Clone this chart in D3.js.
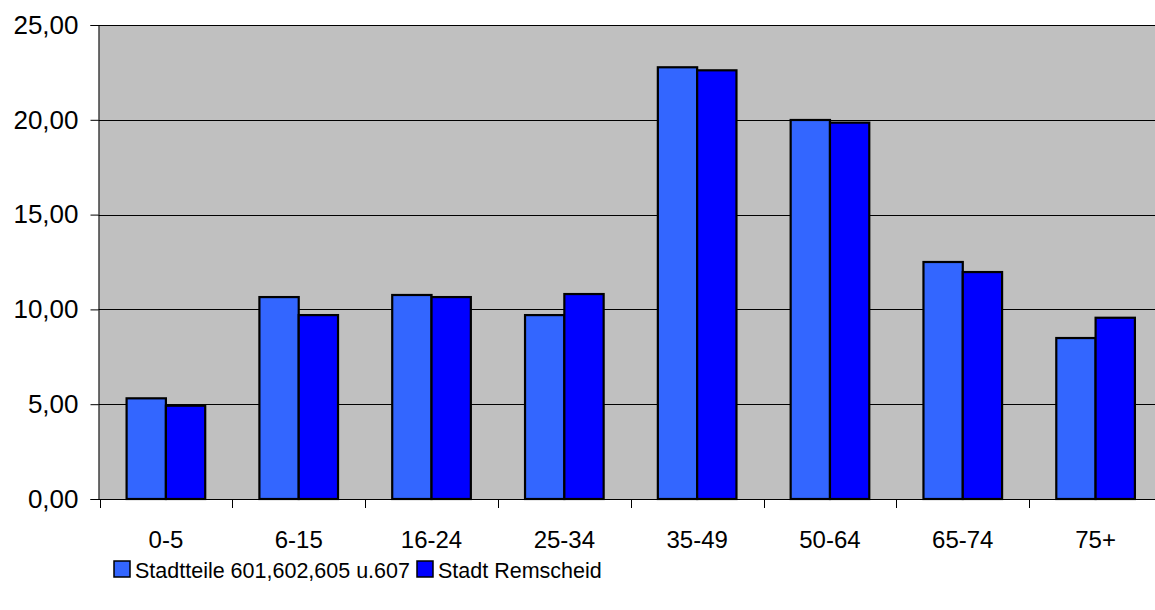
<!DOCTYPE html>
<html>
<head>
<meta charset="utf-8">
<script src="https://cdn.jsdelivr.net/npm/d3@7"></script>
<style>
  html, body { margin: 0; padding: 0; background: #fff; }
  svg { display: block; font-family: "Liberation Sans", Arial, sans-serif; }
</style>
</head>
<body>
<svg id="chart" width="1155" height="610"></svg>
<script>
// Age groups and population shares (%)
const categories = ["0-5", "6-15", "16-24", "25-34", "35-49", "50-64", "65-74", "75+"];
const seriesNames = ["Stadtteile 601,602,605 u.607", "Stadt Remscheid"];
const stadtteile = [5.31, 10.65, 10.76, 9.70, 22.77, 19.99, 12.50, 8.49];
const remscheid  = [4.92, 9.70, 10.65, 10.81, 22.61, 19.85, 11.97, 9.56];
const yTicks = [0, 5, 10, 15, 20, 25];

const colors = ["#3366FF", "#0000FF"];
const svg = d3.select("#chart");

const plot = { left: 98.5, right: 1162, top: 25, bottom: 499 };

const x = d3.scaleBand().domain(categories).range([plot.left + 1, plot.right]);
const y = d3.scaleLinear().domain([0, 25]).range([plot.bottom, plot.top]);

// Plot background
svg.append("rect")
  .attr("x", plot.left).attr("y", plot.top)
  .attr("width", plot.right - plot.left).attr("height", plot.bottom - plot.top)
  .attr("fill", "#C0C0C0");

// Horizontal gridlines
svg.append("g").selectAll("line").data(yTicks.filter(d => d > 0)).join("line")
  .attr("x1", plot.left).attr("x2", plot.right)
  .attr("y1", d => Math.round(y(d)) + 0.5).attr("y2", d => Math.round(y(d)) + 0.5)
  .attr("stroke", "#000").attr("stroke-width", 1);

// Bars
const barW = x.bandwidth() * 0.296;
const rows = categories.map((c, i) => ({ c, vals: [stadtteile[i], remscheid[i]] }));
const groups = svg.append("g").selectAll("g").data(rows).join("g");
groups.selectAll("rect").data(d => d.vals.map((v, k) => ({ c: d.c, v, k }))).join("rect")
  .attr("x", d => x(d.c) + x.bandwidth() / 2 - barW + d.k * barW)
  .attr("y", d => y(d.v))
  .attr("width", barW)
  .attr("height", d => y(0) - y(d.v))
  .attr("fill", d => colors[d.k])
  .attr("stroke", "#000").attr("stroke-width", 2.2);

// Y axis
const yAxis = d3.axisLeft(y).tickValues(yTicks).tickSize(8).tickPadding(12)
  .tickFormat(d => d3.format(".2f")(d).replace(".", ","));
const gy = svg.append("g").attr("transform", `translate(${plot.left},0)`).call(yAxis);
gy.select(".domain").attr("stroke", "#000");
gy.selectAll(".tick line").attr("stroke", "#000");
gy.selectAll(".tick text").attr("font-size", 26).attr("fill", "#000")
  .attr("font-family", "Liberation Sans, Arial, sans-serif");

// X axis with ticks between categories
const gx = svg.append("g").attr("transform", `translate(0,${plot.bottom})`);
gx.append("line").attr("x1", plot.left).attr("x2", plot.right)
  .attr("y1", 0.5).attr("y2", 0.5).attr("stroke", "#000");
const boundaries = categories.map(c => x(c)).concat([x.range()[1]]);
gx.selectAll("line.tk").data(boundaries).join("line").attr("class", "tk")
  .attr("x1", d => Math.round(d) + 0.5).attr("x2", d => Math.round(d) + 0.5)
  .attr("y1", 0).attr("y2", 9).attr("stroke", "#000");
gx.selectAll("text").data(categories).join("text")
  .attr("x", d => x(d) + x.bandwidth() / 2)
  .attr("y", 49)
  .attr("text-anchor", "middle")
  .attr("font-size", 24).attr("fill", "#000")
  .text(d => d);

// Legend
const legend = svg.append("g");
const legendItems = [
  { name: seriesNames[0], color: colors[0], x: 114 },
  { name: seriesNames[1], color: colors[1], x: 417 }
];
legendItems.forEach(it => {
  legend.append("rect").attr("x", it.x).attr("y", 561).attr("width", 16).attr("height", 16)
    .attr("fill", it.color).attr("stroke", "#000").attr("stroke-width", 1.5);
  legend.append("text").attr("x", it.x + 21).attr("y", 578)
    .attr("font-size", 21.5).attr("fill", "#000").text(it.name);
});
</script>
</body>
</html>
